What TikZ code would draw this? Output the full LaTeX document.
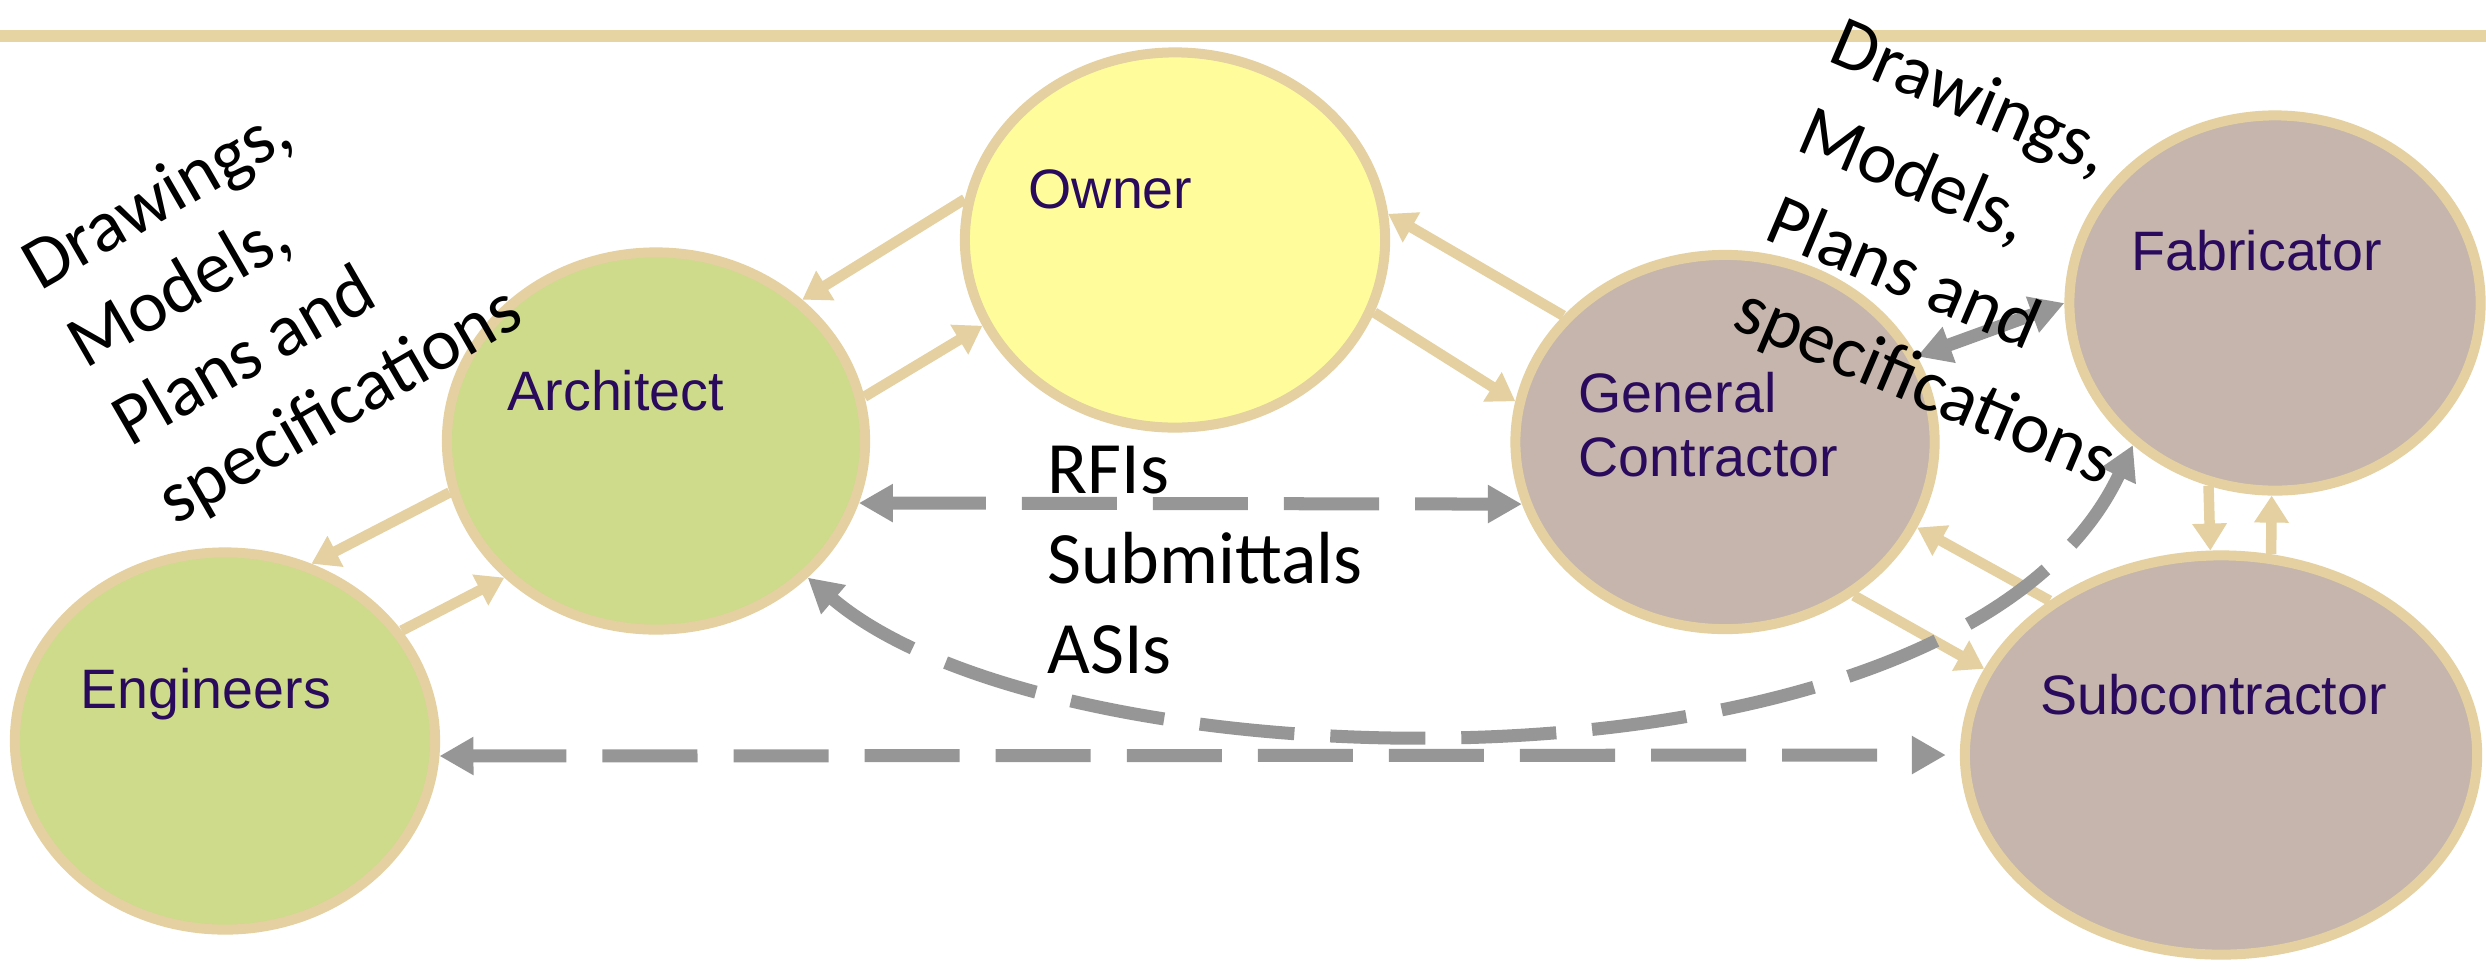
\documentclass[tikz,border=0pt]{standalone}
\usepackage{fontspec}
\setmainfont{Carlito}
\newfontfamily\labfont{Liberation Sans}
\usetikzlibrary{shapes.geometric,arrows.meta}

\definecolor{bandtan}{RGB}{230,212,163}
\definecolor{tanline}{RGB}{228,208,160}
\definecolor{leafgreen}{RGB}{205,219,139}
\definecolor{paleyellow}{RGB}{255,253,155}
\definecolor{mauve}{RGB}{197,181,172}
\definecolor{ink}{RGB}{42,10,92}
\definecolor{arrowgray}{RGB}{150,150,150}

\begin{document}
\begin{tikzpicture}[x=0.01cm,y=-0.01cm,
  party/.style={ellipse, draw=tanline, line width=0.1cm, inner sep=0pt},
  lab/.style={font=\labfont\fontsize{15.8pt}{19pt}\selectfont, text=ink, inner sep=0pt, anchor=base west},
  note/.style={font=\fontsize{21pt}{25pt}\selectfont, text=black, inner sep=0pt, anchor=base west},
  tanarrow/.style={draw=tanline, line width=0.105cm, -{Triangle[length=0.27cm,width=0.33cm]}},
  graytip/.tip={Triangle[length=0.34cm,width=0.36cm]},
  grayarrow/.style={draw=arrowgray, line width=0.13cm, dash pattern=on 0.95cm off 0.36cm}
]
\useasboundingbox (0,0) rectangle (2486,963);

% header rule
\fill[bandtan] (0,30) rectangle (2486,42);

% parties
\node[party, fill=paleyellow, minimum width=4.20cm, minimum height=3.75cm] (own)  at (1175,240) {};
\node[party, fill=leafgreen,  minimum width=4.18cm, minimum height=3.77cm] (arch) at (656,441) {};
\node[party, fill=leafgreen,  minimum width=4.20cm, minimum height=3.77cm] (eng)  at (225,741) {};
\node[party, fill=mauve,      minimum width=4.19cm, minimum height=3.74cm] (gc)   at (1725,442) {};
\node[party, fill=mauve,      minimum width=4.11cm, minimum height=3.75cm] (fab)  at (2275,303) {};
\node[party, fill=mauve,      minimum width=5.12cm, minimum height=3.99cm] (sub)  at (2221,755) {};

% contractual links
\draw[tanarrow] (own.169) -- (arch.44);
\draw[tanarrow] (arch.12) -- (own.204);
\draw[tanarrow] (own.-20) -- (gc.169);
\draw[tanarrow] (gc.142) -- (own.7);
\draw[tanarrow] (arch.194) -- (eng.64);
\draw[tanarrow] (eng.32) -- (arch.222);
\draw[tanarrow] (gc.-50) -- (sub.160);
\draw[tanarrow] (sub.138) -- (gc.-24);
\draw[tanarrow] (fab.250) -- (sub.93);
\draw[tanarrow] (sub.76) -- (fab.269);

% information exchange
\draw[grayarrow, graytip-graytip] (arch.-17) -- (gc.197);
\draw[grayarrow, graytip-graytip, shorten >=0.14cm] (eng.-4) -- (sub.180);
\draw[grayarrow, graytip-graytip] (arch.-42) .. controls (1060,793) and (1960,813) .. (fab.225);
\draw[grayarrow, graytip-graytip] (gc.24) -- (fab.180);

% party names
\node[lab] (ownlab)  at (1028,208) {Owner};
\node[lab] (archlab) at (507,410)  {Architect};
\node[lab] (englab)  at (80,708)   {Engineers};
\node[lab] (gclabA)  at (1578,412) {General};
\node[lab] (gclabB)  at (1578,476) {Contractor};
\node[lab] (fablab)  at (2131,270) {Fabricator};
\node[lab] (sublab)  at (2040,714) {Subcontractor};

% exchanged documents
\node[note] (rfi) at (1047,493) {RFIs};
\node[note] (smt) at (1047,583) {Submittals};
\node[note] (asi) at (1047,673) {ASIs};

\node[note, rotate=30] (lA) at (40,292)  {Drawings,};
\node[note, rotate=30] (lB) at (85,370)  {Models,};
\node[note, rotate=30] (lC) at (130,448) {Plans and};
\node[note, rotate=30] (lD) at (175,526) {specifications};

\node[note, rotate=-23] (rA) at (1826,60)  {Drawings,};
\node[note, rotate=-23] (rB) at (1794,149) {Models,};
\node[note, rotate=-23] (rC) at (1762,238) {Plans and};
\node[note, rotate=-23] (rD) at (1730,327) {specifications};
\end{tikzpicture}
\end{document}
